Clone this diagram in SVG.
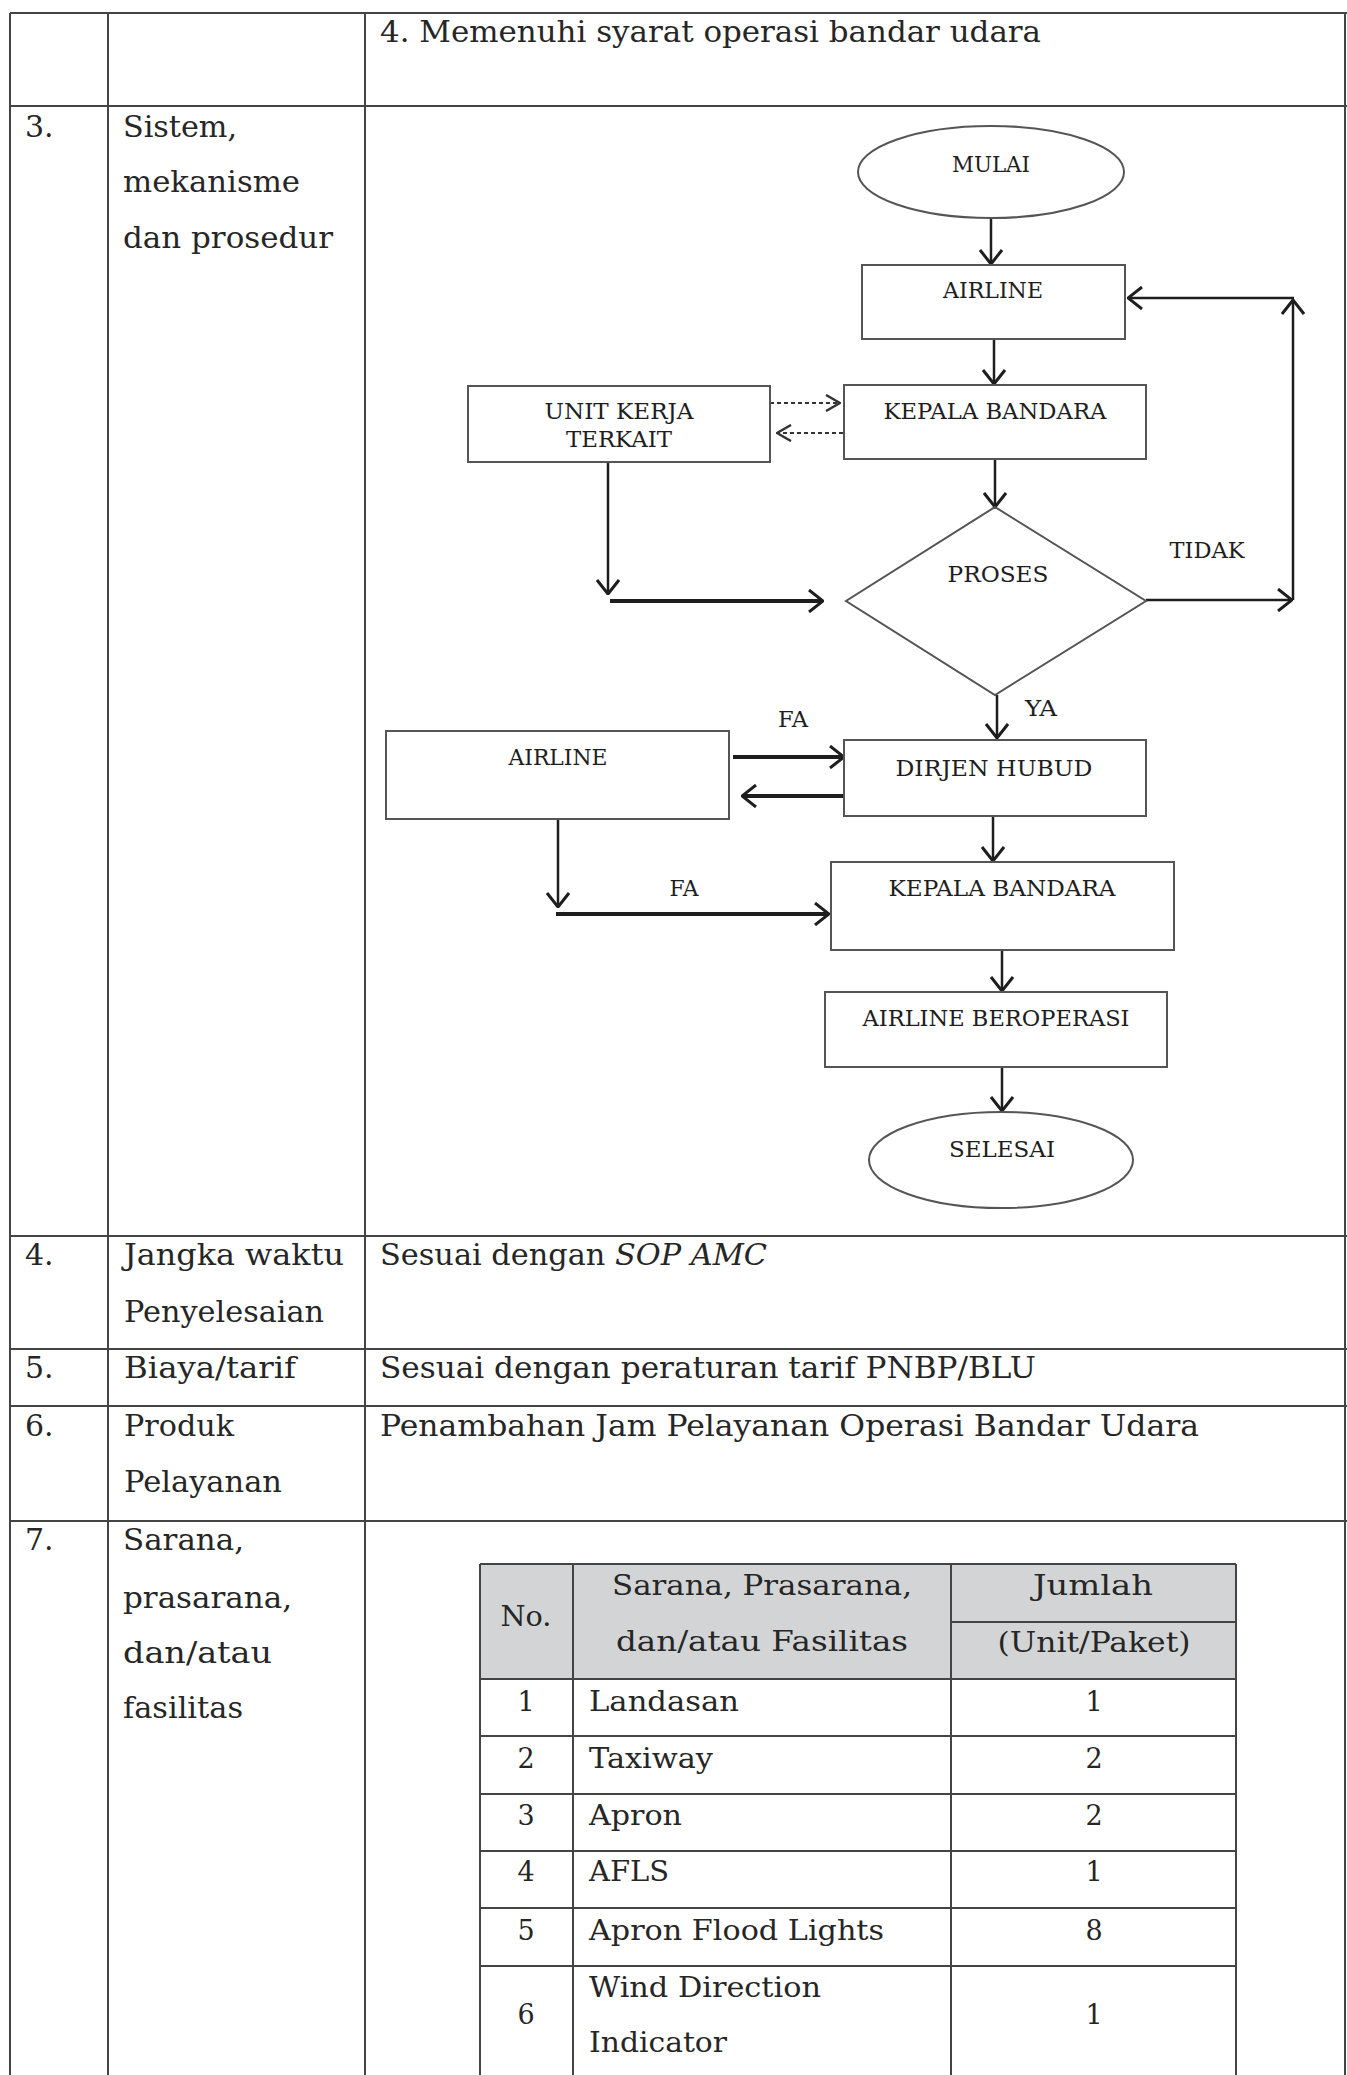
<svg xmlns="http://www.w3.org/2000/svg" width="1347" height="2075" viewBox="0 0 1347 2075">
<style>
.t{font-family:"DejaVu Serif","Liberation Serif",serif;font-size:30px;fill:#262626}
.it{font-style:italic}
.f{font-family:"DejaVu Serif","Liberation Serif",serif;font-size:23px;fill:#1e1e1e}
.s{font-family:"DejaVu Serif","Liberation Serif",serif;font-size:27px;fill:#262626}
.grid{stroke:#444;stroke-width:2;fill:none}
.box{stroke:#555;stroke-width:2;fill:#fff}
.ln{stroke:#1e1e1e;stroke-width:2.5;fill:none}
.bold{stroke:#1e1e1e;stroke-width:4;fill:none}
.dash{stroke:#333;stroke-width:2;stroke-dasharray:4 3;fill:none}
</style>
<defs>
<marker id="ah" viewBox="0 0 16 24" refX="15" refY="12" markerWidth="16" markerHeight="24" markerUnits="userSpaceOnUse" orient="auto">
<path d="M1,1 L15,12 L1,23" fill="none" stroke="#1e1e1e" stroke-width="3"/>
</marker>
<marker id="ahs" viewBox="0 0 16 18" refX="15" refY="9" markerWidth="16" markerHeight="18" markerUnits="userSpaceOnUse" orient="auto">
<path d="M1,1 L15,9 L1,17" fill="none" stroke="#333" stroke-width="2.5"/>
</marker>
</defs>
<rect width="1347" height="2075" fill="#fff"/>

<g id="outer-table">
<path class="grid" d="M10,13 H1347 M10,106 H1347 M10,1236 H1347 M10,1349 H1347 M10,1406 H1347 M10,1521 H1347 M10,13 V2075 M108,13 V2075 M365,13 V2075 M1345,13 V2075"/>
<text class="t" x="380" y="42" textLength="661" lengthAdjust="spacingAndGlyphs">4. Memenuhi syarat operasi bandar udara</text>
<text class="t" x="25" y="137">3.</text>
<text class="t" x="123" y="137" textLength="114" lengthAdjust="spacingAndGlyphs">Sistem,</text>
<text class="t" x="123" y="192" textLength="177" lengthAdjust="spacingAndGlyphs">mekanisme</text>
<text class="t" x="123" y="248" textLength="210" lengthAdjust="spacingAndGlyphs">dan prosedur</text>
<text class="t" x="25" y="1265">4.</text>
<text class="t" x="124" y="1265" textLength="220" lengthAdjust="spacingAndGlyphs">Jangka waktu</text>
<text class="t" x="124" y="1322" textLength="200" lengthAdjust="spacingAndGlyphs">Penyelesaian</text>
<text class="t" x="380" y="1265" textLength="387" lengthAdjust="spacingAndGlyphs">Sesuai dengan <tspan class="it">SOP AMC</tspan></text>
<text class="t" x="25" y="1378">5.</text>
<text class="t" x="124" y="1378" textLength="172" lengthAdjust="spacingAndGlyphs">Biaya/tarif</text>
<text class="t" x="380" y="1378" textLength="656" lengthAdjust="spacingAndGlyphs">Sesuai dengan peraturan tarif PNBP/BLU</text>
<text class="t" x="25" y="1436">6.</text>
<text class="t" x="124" y="1436" textLength="110" lengthAdjust="spacingAndGlyphs">Produk</text>
<text class="t" x="124" y="1492" textLength="158" lengthAdjust="spacingAndGlyphs">Pelayanan</text>
<text class="t" x="380" y="1436" textLength="819" lengthAdjust="spacingAndGlyphs">Penambahan Jam Pelayanan Operasi Bandar Udara</text>
<text class="t" x="25" y="1550">7.</text>
<text class="t" x="123" y="1550" textLength="121" lengthAdjust="spacingAndGlyphs">Sarana,</text>
<text class="t" x="123" y="1608" textLength="169" lengthAdjust="spacingAndGlyphs">prasarana,</text>
<text class="t" x="123" y="1663" textLength="149" lengthAdjust="spacingAndGlyphs">dan/atau</text>
<text class="t" x="123" y="1718" textLength="120" lengthAdjust="spacingAndGlyphs">fasilitas</text>
</g>

<g id="connectors">
<line class="ln" x1="991" y1="218" x2="991" y2="264" marker-end="url(#ah)"/>
<line class="ln" x1="994" y1="339" x2="994" y2="384" marker-end="url(#ah)"/>
<line class="dash" x1="770" y1="403" x2="840" y2="403" marker-end="url(#ahs)"/>
<line class="dash" x1="843" y1="433" x2="777" y2="433" marker-end="url(#ahs)"/>
<line class="ln" x1="995" y1="459" x2="995" y2="507" marker-end="url(#ah)"/>
<polyline class="ln" points="608,462 608,594" marker-end="url(#ah)"/>
<line class="bold" x1="610" y1="601" x2="823" y2="601" marker-end="url(#ah)"/>
<line class="ln" x1="1146" y1="600" x2="1292" y2="600" marker-end="url(#ah)"/>
<line class="ln" x1="1293" y1="600" x2="1293" y2="300" marker-end="url(#ah)"/>
<line class="ln" x1="1294" y1="298" x2="1128" y2="298" marker-end="url(#ah)"/>
<line class="ln" x1="997" y1="695" x2="997" y2="738" marker-end="url(#ah)"/>
<line class="bold" x1="733" y1="757" x2="844" y2="757" marker-end="url(#ah)"/>
<line class="bold" x1="844" y1="796" x2="742" y2="796" marker-end="url(#ah)"/>
<line class="ln" x1="993" y1="816" x2="993" y2="861" marker-end="url(#ah)"/>
<line class="ln" x1="558" y1="819" x2="558" y2="907" marker-end="url(#ah)"/>
<line class="bold" x1="556" y1="914" x2="829" y2="914" marker-end="url(#ah)"/>
<line class="ln" x1="1002" y1="950" x2="1002" y2="991" marker-end="url(#ah)"/>
<line class="ln" x1="1002" y1="1067" x2="1002" y2="1111" marker-end="url(#ah)"/>
<text class="f" x="1207" y="558" text-anchor="middle" textLength="75" lengthAdjust="spacingAndGlyphs">TIDAK</text>
<text class="f" x="1041" y="716" text-anchor="middle" textLength="32" lengthAdjust="spacingAndGlyphs">YA</text>
<text class="f" x="793" y="727" text-anchor="middle" textLength="30" lengthAdjust="spacingAndGlyphs">FA</text>
<text class="f" x="684" y="896" text-anchor="middle" textLength="29" lengthAdjust="spacingAndGlyphs">FA</text>
</g>

<g id="mulai">
<ellipse class="box" cx="991" cy="172" rx="133" ry="46"/>
<text class="f" x="991" y="172" text-anchor="middle" textLength="78" lengthAdjust="spacingAndGlyphs">MULAI</text>
</g>
<g id="airline-1">
<rect class="box" x="862" y="265" width="263" height="74"/>
<text class="f" x="993" y="298" text-anchor="middle" textLength="100" lengthAdjust="spacingAndGlyphs">AIRLINE</text>
</g>
<g id="kepala-bandara-1">
<rect class="box" x="844" y="385" width="302" height="74"/>
<text class="f" x="995" y="419" text-anchor="middle" textLength="223" lengthAdjust="spacingAndGlyphs">KEPALA BANDARA</text>
</g>
<g id="unit-kerja">
<rect class="box" x="468" y="386" width="302" height="76"/>
<text class="f" x="619" y="419" text-anchor="middle" textLength="149" lengthAdjust="spacingAndGlyphs">UNIT KERJA</text>
<text class="f" x="619" y="447" text-anchor="middle" textLength="106" lengthAdjust="spacingAndGlyphs">TERKAIT</text>
</g>
<g id="proses">
<polygon class="box" points="995,507 1146,601 995,695 846,601"/>
<text class="f" x="998" y="582" text-anchor="middle" textLength="101" lengthAdjust="spacingAndGlyphs">PROSES</text>
</g>
<g id="airline-2">
<rect class="box" x="386" y="731" width="343" height="88"/>
<text class="f" x="558" y="765" text-anchor="middle" textLength="99" lengthAdjust="spacingAndGlyphs">AIRLINE</text>
</g>
<g id="dirjen-hubud">
<rect class="box" x="844" y="740" width="302" height="76"/>
<text class="f" x="994" y="776" text-anchor="middle" textLength="197" lengthAdjust="spacingAndGlyphs">DIRJEN HUBUD</text>
</g>
<g id="kepala-bandara-2">
<rect class="box" x="831" y="862" width="343" height="88"/>
<text class="f" x="1002" y="896" text-anchor="middle" textLength="227" lengthAdjust="spacingAndGlyphs">KEPALA BANDARA</text>
</g>
<g id="airline-beroperasi">
<rect class="box" x="825" y="992" width="342" height="75"/>
<text class="f" x="996" y="1026" text-anchor="middle" textLength="267" lengthAdjust="spacingAndGlyphs">AIRLINE BEROPERASI</text>
</g>
<g id="selesai">
<ellipse class="box" cx="1001" cy="1160" rx="132" ry="48"/>
<text class="f" x="1002" y="1157" text-anchor="middle" textLength="106" lengthAdjust="spacingAndGlyphs">SELESAI</text>
</g>

<g id="facilities-table">
<rect x="480" y="1564" width="756" height="115" fill="#d2d4d5"/>
<path class="grid" d="M480,1564 H1236 M951,1622 H1236 M480,1679 H1236 M480,1736 H1236 M480,1794 H1236 M480,1851 H1236 M480,1908 H1236 M480,1966 H1236 M480,1564 V2075 M573,1564 V2075 M951,1564 V2075 M1236,1564 V2075"/>
<text class="s" x="526" y="1626" text-anchor="middle" textLength="51" lengthAdjust="spacingAndGlyphs">No.</text>
<text class="s" x="762" y="1595" text-anchor="middle" textLength="300" lengthAdjust="spacingAndGlyphs">Sarana, Prasarana,</text>
<text class="s" x="762" y="1651" text-anchor="middle" textLength="292" lengthAdjust="spacingAndGlyphs">dan/atau Fasilitas</text>
<text class="s" x="1093" y="1595" text-anchor="middle" textLength="120" lengthAdjust="spacingAndGlyphs">Jumlah</text>
<text class="s" x="1094" y="1652" text-anchor="middle" textLength="193" lengthAdjust="spacingAndGlyphs">(Unit/Paket)</text>
<text class="s" x="526" y="1711" text-anchor="middle">1</text>
<text class="s" x="589" y="1711" textLength="150" lengthAdjust="spacingAndGlyphs">Landasan</text>
<text class="s" x="1094" y="1711" text-anchor="middle">1</text>
<text class="s" x="526" y="1768" text-anchor="middle">2</text>
<text class="s" x="589" y="1768" textLength="124" lengthAdjust="spacingAndGlyphs">Taxiway</text>
<text class="s" x="1094" y="1768" text-anchor="middle">2</text>
<text class="s" x="526" y="1825" text-anchor="middle">3</text>
<text class="s" x="589" y="1825" textLength="93" lengthAdjust="spacingAndGlyphs">Apron</text>
<text class="s" x="1094" y="1825" text-anchor="middle">2</text>
<text class="s" x="526" y="1881" text-anchor="middle">4</text>
<text class="s" x="589" y="1881" textLength="80" lengthAdjust="spacingAndGlyphs">AFLS</text>
<text class="s" x="1094" y="1881" text-anchor="middle">1</text>
<text class="s" x="526" y="1940" text-anchor="middle">5</text>
<text class="s" x="589" y="1940" textLength="295" lengthAdjust="spacingAndGlyphs">Apron Flood Lights</text>
<text class="s" x="1094" y="1940" text-anchor="middle">8</text>
<text class="s" x="526" y="2024" text-anchor="middle">6</text>
<text class="s" x="589" y="1997" textLength="232" lengthAdjust="spacingAndGlyphs">Wind Direction</text>
<text class="s" x="589" y="2052" textLength="138" lengthAdjust="spacingAndGlyphs">Indicator</text>
<text class="s" x="1094" y="2024" text-anchor="middle">1</text>
</g>
</svg>
